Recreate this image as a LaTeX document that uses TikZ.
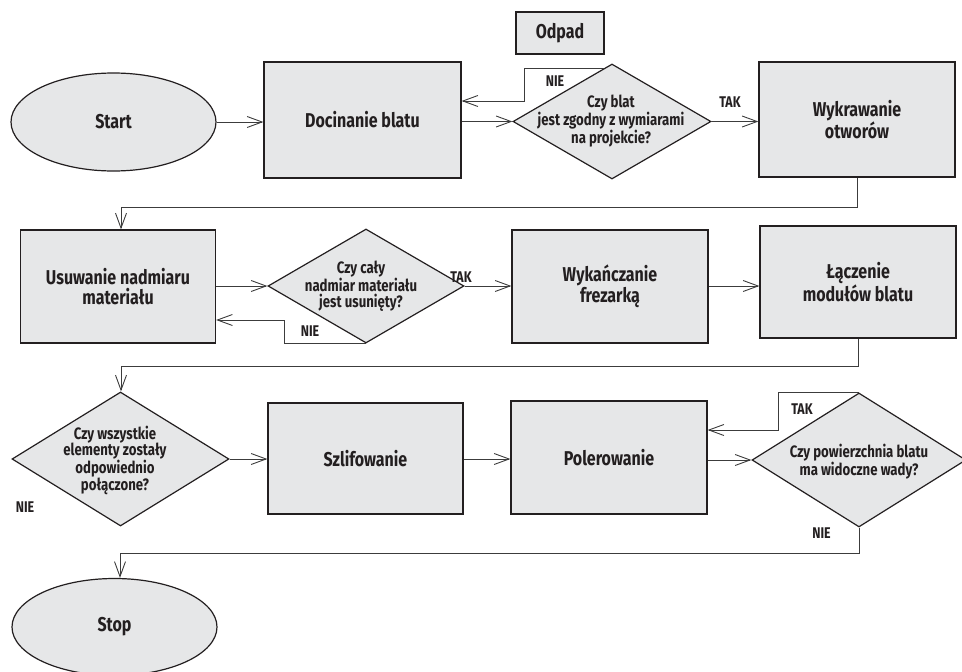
\documentclass[tikz,border=0pt]{standalone}
\usepackage{fontspec}
\setmainfont{Fira Sans}[FakeStretch=0.8]
\usetikzlibrary{shapes.geometric,arrows.meta,calc}
\definecolor{shapefill}{HTML}{E6E7E8}
\definecolor{ink}{HTML}{231F20}
\definecolor{wire}{HTML}{3C3C3C}
\tikzset{
  every node/.style={font=\bfseries, text=ink},
  procbox/.style={draw=ink, fill=shapefill, line width=1.2pt, rectangle, inner sep=0pt,
    align=center, font=\bfseries\fontsize{20}{19.5}\selectfont},
  term/.style={draw=ink, fill=shapefill, line width=1.2pt, ellipse, inner sep=0pt,
    font=\bfseries\fontsize{20}{19.5}\selectfont},
  decision/.style={draw=ink, fill=shapefill, line width=1.2pt, diamond, inner sep=0pt},
  dtext/.style={align=center, inner sep=0pt, font=\bfseries\fontsize{16.5}{16.5}\selectfont},
  answer/.style={inner sep=0pt, font=\bfseries\fontsize{15.5}{15.5}\selectfont},
  arr/.style={draw=wire, line width=0.9pt, -{Straight Barb[length=15pt,width=11pt]}},
}
\begin{document}
\begin{tikzpicture}[x=1pt,y=-1pt]
\useasboundingbox (0,0) rectangle (962,672);

% row 1
\node[term, minimum width=205pt, minimum height=98pt] (start) at (113.5,122) {Start};
\node[procbox, minimum width=197pt, minimum height=116pt] (doc) at (362.5,120) {Docinanie blatu};
\node[procbox, minimum width=88pt, minimum height=42pt] (odpad) at (560,33) {Odpad};
\node[decision, minimum width=198pt, minimum height=115pt] (d1) at (612,121.5) {};
\node[dtext] (d1t) at (611,121) {Czy blat\\jest zgodny z wymiarami\\na projekcie?};
\node[procbox, minimum width=196pt, minimum height=115pt] (wyk) at (857,119.5) {Wykrawanie\\otworów};

% row 2
\node[procbox, minimum width=195pt, minimum height=113pt] (usu) at (118,286.5) {Usuwanie nadmiaru\\materiału};
\node[decision, minimum width=196pt, minimum height=114pt] (d2) at (366,286) {};
\node[dtext] (d2t) at (361,286) {Czy cały\\nadmiar materiału\\jest usunięty?};
\node[procbox, minimum width=196pt, minimum height=113pt] (fre) at (610,286.5) {Wykańczanie\\frezarką};
\node[procbox, minimum width=196pt, minimum height=112pt] (lacz) at (858,282) {Łączenie\\modułów blatu};

% row 3
\node[decision, minimum width=217pt, minimum height=134pt] (d3) at (120.5,459) {};
\node[dtext] (d3t) at (115,460) {Czy wszystkie\\elementy zostały\\odpowiednio\\połączone?};
\node[procbox, minimum width=195pt, minimum height=111pt] (szl) at (365.5,458.5) {Szlifowanie};
\node[procbox, minimum width=196pt, minimum height=113pt] (pol) at (609,457.5) {Polerowanie};
\node[decision, minimum width=214pt, minimum height=134pt] (d4) at (859,460) {};
\node[dtext] (d4t) at (859,462) {Czy powierzchnia blatu\\ma widoczne wady?};

% end
\node[term, minimum width=205pt, minimum height=97pt] (stop) at (114.5,627) {Stop};

% answer labels
\node[answer] (l1) at (555,81) {NIE};
\node[answer] (l2) at (730,102) {TAK};
\node[answer] (l3) at (461,277) {TAK};
\node[answer] (l4) at (310,331) {NIE};
\node[answer] (l5) at (25,507) {NIE};
\node[answer] (l6) at (802,409) {TAK};
\node[answer] (l7) at (821.5,533) {NIE};

% connectors, row 1
\draw[arr] (start.east) -- (start.east -| doc.west);
\draw[arr] (doc.east |- d1.west) -- (d1.west);
\coordinate (d1top) at ($(d1.north)!0.08!(d1.west)$);
\coordinate (k1) at (524,101);
\draw[arr] (d1top) -| (k1) -- (k1 -| doc.east);
\draw[arr] (d1.east) -- (d1.east -| wyk.west);
\coordinate (k2) at (121,207);
\draw[arr] (wyk.south) |- (k2) -- (k2 |- usu.north);

% connectors, row 2
\draw[arr] (usu.east |- d2.west) -- (d2.west);
\coordinate (k3) at (284,320);
\draw[arr] (d2.south) -| (k3) -- (k3 -| usu.east);
\draw[arr] (d2.east) -- (d2.east -| fre.west);
\draw[arr] (fre.east |- 0,286) -- (lacz.west |- 0,286);
\coordinate (k4) at (121,366);
\draw[arr] (lacz.south) |- (k4) -- (k4 |- d3.north);

% connectors, row 3
\draw[arr] (d3.east) -- (d3.east -| szl.west);
\draw[arr] (szl.east |- 0,459) -- (pol.west |- 0,459);
\draw[arr] (pol.east |- d4.west) -- (d4.west);
\coordinate (k5) at (778,430);
\draw[arr] (d4.north) -| (k5) -- (k5 -| pol.east);
\coordinate (k6) at (120,553);
\draw[arr] (d4.south) |- (k6) -- (k6 |- stop.north);
\end{tikzpicture}
\end{document}
